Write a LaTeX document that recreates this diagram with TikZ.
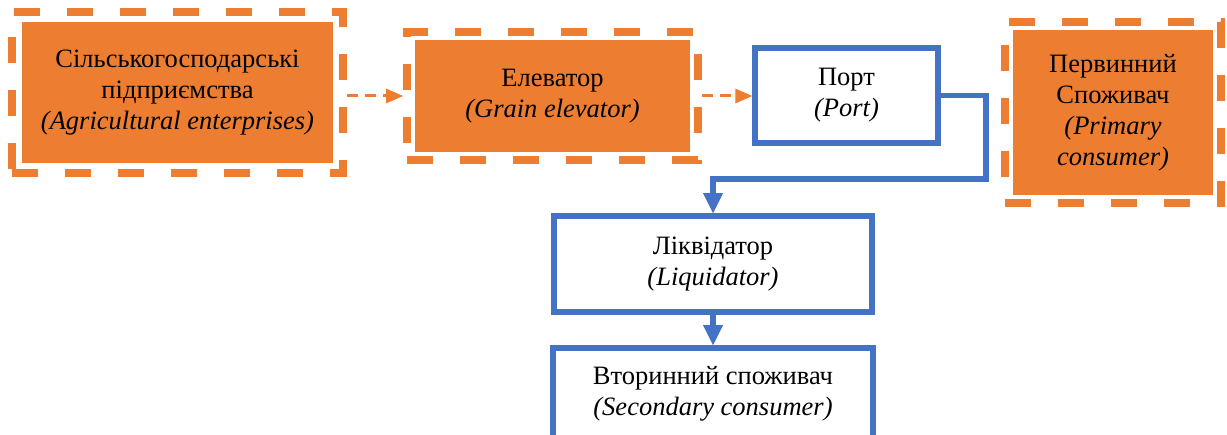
\documentclass[tikz,border=0pt]{standalone}
\usepackage{fontspec}
\setmainfont{Liberation Serif}
\usetikzlibrary{fit,arrows.meta}
\definecolor{msorange}{HTML}{ED7D31}
\definecolor{msblue}{HTML}{4472C4}
\tikzset{
  orangebox/.style={fill=msorange, inner sep=0pt, outer sep=0pt, align=center},
  dashframe/.style={draw=msorange, line width=8pt, dash pattern=on 26pt off 27pt, inner sep=#1},
  bluebox/.style={draw=msblue, line width=5.5pt, fill=white, inner sep=0pt, align=center},
  orangearrow/.style={draw=msorange, line width=3pt, dash pattern=on 11pt off 7pt,
    -{Triangle[length=17pt,width=15pt,line width=0pt]}},
  bluearrow/.style={draw=msblue, line width=5.5pt,
    -{Triangle[length=20pt,width=20pt,line width=0pt]}},
}
\begin{document}
\begin{tikzpicture}[x=1pt, y=-1pt, font=\fontsize{26.5}{31}\selectfont]
\useasboundingbox (0,0) rectangle (1227,435);

% orange boxes with dashed frames
\node[orangebox, minimum width=311pt, minimum height=141pt] (agri) at (177.5,92.5)
  {Сільськогосподарські\\підприємства\\\textit{(Agricultural enterprises)}};
\node[dashframe=10pt, fit=(agri)] (agrif) {};

\node[orangebox, minimum width=275pt, minimum height=112pt] (elev) at (552.5,96)
  {Елеватор\\\textit{(Grain elevator)}};
\node[dashframe=8pt, fit=(elev)] (elevf) {};

\node[orangebox, minimum width=200pt, minimum height=165pt] (prim) at (1113,112.5)
  {Первинний\\Споживач\\\textit{(Primary}\\\textit{consumer)}};
\node[dashframe=8pt, fit=(prim)] (primf) {};

% blue boxes
\node[bluebox, minimum width=183pt, minimum height=95pt] (port) at (846.5,95.5)
  {Порт\\\textit{(Port)}};
\node[bluebox, minimum width=318pt, minimum height=96pt] (liq) at (713,264)
  {Ліквідатор\\\textit{(Liquidator)}};
\node[bluebox, minimum width=320pt, minimum height=92pt] (sec) at (713,394)
  {Вторинний споживач\\\textit{(Secondary consumer)}};

% connectors
\draw[orangearrow] (agrif.east |- elevf.west) -- (elevf.west);
\draw[orangearrow] (elevf.east) -- (elevf.east -| port.west);
\draw[bluearrow] (port.east) -- ++(45,0) |- ([shift={(0,-34)}]liq.north) -- (liq.north);
\draw[bluearrow] (liq) -- (sec);
\end{tikzpicture}
\end{document}
